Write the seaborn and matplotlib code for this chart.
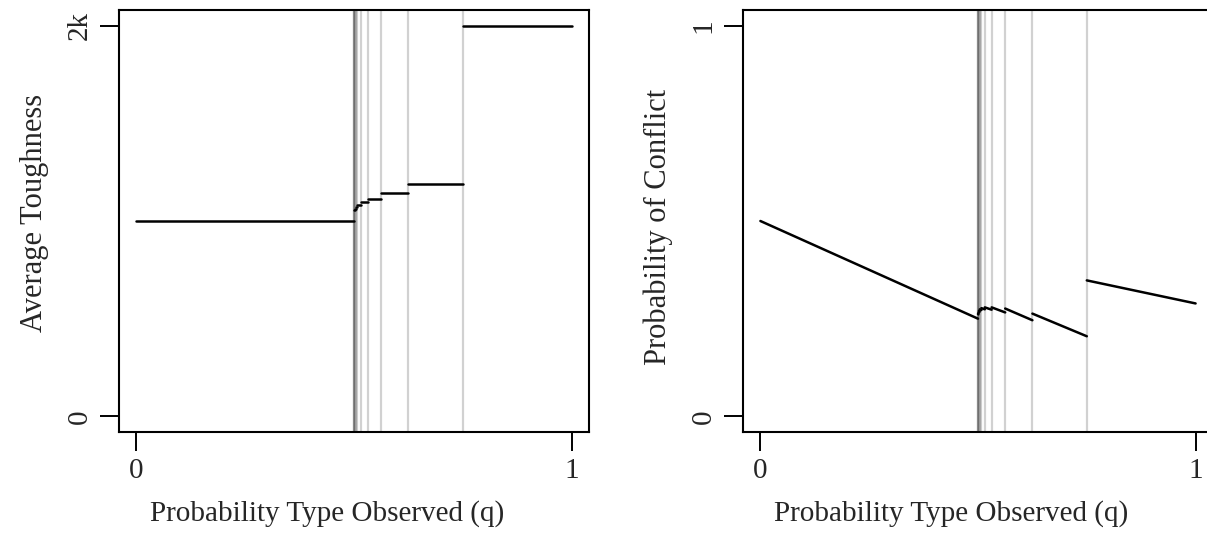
import numpy as np
import pandas as pd
import matplotlib
matplotlib.use("Agg")
import matplotlib.pyplot as plt
import seaborn as sns

# interval edges on q
q_left = [0.0, 0.5, 0.501, 0.502, 0.5039, 0.5078, 0.5156, 0.5313, 0.5625, 0.625, 0.75]
q_right = [0.5, 0.501, 0.502, 0.5039, 0.5078, 0.5156, 0.5313, 0.5625, 0.625, 0.75, 1.0]

# average toughness on each interval (flat steps)
toughness = [1000, 1050, 1056, 1063, 1072, 1083, 1095, 1115, 1144, 1187, 2000]

# probability of conflict at the start / end of each interval
conflict_start = [0.50, 0.262, 0.266, 0.270, 0.274, 0.277, 0.279, 0.279, 0.276, 0.263, 0.348]
conflict_end = [0.25, 0.261, 0.265, 0.268, 0.272, 0.274, 0.273, 0.266, 0.246, 0.205, 0.289]

# guide lines
guide_q = [0.5, 0.5005, 0.501, 0.502, 0.5039, 0.5078, 0.5156, 0.5313, 0.5625, 0.625, 0.75]

xlab = "Probability Type Observed (q)"

sns.set_theme(style="ticks")
plt.rcParams["font.family"] = ["Liberation Serif", "DejaVu Serif"]

fig = plt.figure(figsize=(12.07, 5.51), dpi=100)
W, H = 1207, 551
ax1 = fig.add_axes([119 / W, 1 - 432 / H, 470 / W, 422 / H])
ax2 = fig.add_axes([743 / W, 1 - 432 / H, 470 / W, 422 / H])

tough_df = pd.DataFrame({"seg": range(len(toughness)), "q0": q_left, "q1": q_right, "v": toughness})
conf_df = pd.DataFrame({"seg": range(len(conflict_start)), "q0": q_left, "q1": q_right,
                        "v0": conflict_start, "v1": conflict_end})

def seg_long(df, c0, c1):
    a = df[["seg", "q0", c0]].rename(columns={"q0": "q", c0: "val"})
    b = df[["seg", "q1", c1]].rename(columns={"q1": "q", c1: "val"})
    return pd.concat([a, b]).sort_values(["seg", "q"])

tough_long = seg_long(tough_df, "v", "v")
conf_long = seg_long(conf_df, "v0", "v1")

panels = [
    (ax1, tough_long, (-80, 2080), [0, 2000], ["0", "2k"], "Average Toughness", 0.52),
    (ax2, conf_long, (-0.04, 1.04), [0, 1], ["0", "1"], "Probability of Conflict", 0.487),
]

for ax, data, ylim, yt, ytl, ylab, ylab_y in panels:
    for gq in guide_q:
        ax.axvline(gq, color="black", alpha=0.18, lw=1.6, zorder=1)
    sns.lineplot(data=data, x="q", y="val", units="seg", estimator=None,
                 color="black", lw=1.8, ax=ax, zorder=3)
    ax.set_xlim(-0.04, 1.04)
    ax.set_ylim(*ylim)
    ax.set_xticks([0, 1])
    ax.set_xticklabels(["0", "1"])
    ax.set_yticks(yt)
    ax.set_yticklabels(ytl, rotation=90, va="center")
    ax.set_xlabel(xlab, fontsize=21, labelpad=11)
    ax.set_ylabel(ylab, fontsize=22, labelpad=13)
    # labels sit a little off-centre in the original
    ax.xaxis.label.set_x(0.4436)
    ax.yaxis.label.set_y(ylab_y)
    ax.tick_params(axis="both", labelsize=21, length=14, width=1.4, pad=5, color="black")
    for s in ax.spines.values():
        s.set_visible(True)
        s.set_linewidth(1.5)
        s.set_color("black")

fig.savefig("out.png", dpi=100)
